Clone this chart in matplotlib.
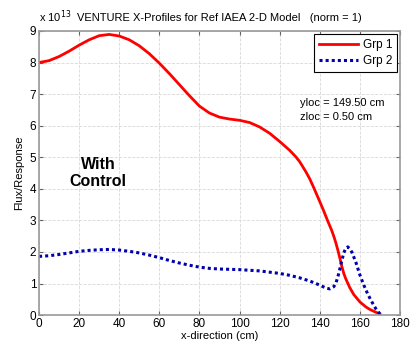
import matplotlib
matplotlib.use("Agg")
import matplotlib.pyplot as plt

plt.rcParams["font.family"] = ["Liberation Sans", "DejaVu Sans"]

# Grp 1 (x 1e13)
x_grp1 = [0, 5, 10, 15, 20, 25, 30, 35, 40, 45, 50, 55, 60, 65, 70, 75,
          80, 85, 90, 95, 100, 105, 110, 115, 120, 125, 128, 130, 133,
          135, 137, 140, 142, 144, 146, 147, 148, 149, 150, 151, 152,
          153, 155, 157, 160, 163, 165, 168, 170]
y_grp1 = [8.00, 8.06, 8.19, 8.36, 8.55, 8.72, 8.85, 8.89, 8.84, 8.72,
          8.53, 8.28, 7.98, 7.65, 7.30, 6.95, 6.62, 6.40, 6.27, 6.21,
          6.17, 6.10, 5.96, 5.76, 5.50, 5.22, 5.02, 4.86, 4.55, 4.32,
          4.04, 3.60, 3.30, 2.98, 2.68, 2.50, 2.30, 2.07, 1.82, 1.55,
          1.32, 1.15, 0.87, 0.65, 0.42, 0.26, 0.18, 0.09, 0.04]

# Grp 2 (x 1e13)
x_grp2 = [0, 5, 10, 15, 20, 25, 30, 35, 40, 45, 50, 55, 60, 65, 70, 75,
          80, 85, 90, 95, 100, 105, 110, 115, 120, 125, 130, 135, 140,
          143, 145, 147, 148, 149, 150, 151, 152, 153, 154, 155, 156,
          158, 160, 162, 164, 166, 168, 170]
y_grp2 = [1.86, 1.88, 1.92, 1.97, 2.02, 2.05, 2.07, 2.08, 2.06, 2.02,
          1.97, 1.90, 1.82, 1.73, 1.65, 1.58, 1.52, 1.48, 1.46, 1.45,
          1.44, 1.42, 1.40, 1.36, 1.32, 1.26, 1.18, 1.08, 0.95, 0.86,
          0.83, 0.90, 1.00, 1.20, 1.45, 1.72, 1.97, 2.12, 2.16, 2.10,
          2.00, 1.68, 1.28, 0.95, 0.66, 0.42, 0.20, 0.04]

fig = plt.figure(figsize=(4.11, 3.44), dpi=100)
ax = fig.add_axes([0.095, 0.084, 0.878, 0.826])

ax.plot(x_grp1, y_grp1, color="red", linewidth=2.0, label="Grp 1")
ax.plot(x_grp2, y_grp2, color="#0000b0", linewidth=2.2,
        linestyle=(0, (1, 1)), label="Grp 2")

ax.set_xlim(0, 180)
ax.set_ylim(0, 9)
ax.set_xticks(range(0, 181, 20))
ax.set_yticks(range(0, 10))
ax.grid(True, linestyle="--", color="#d8d8d8", linewidth=0.6)
ax.tick_params(direction="in", top=True, right=True, labelsize=8.5,
               length=3, color="#666666", pad=2)
for s in ax.spines.values():
    s.set_color("#999999")
    s.set_linewidth(1.2)

ax.set_xlabel("x-direction (cm)", fontsize=8, labelpad=1)
ax.set_ylabel("Flux/Response", fontsize=8, labelpad=4)
ax.set_title("VENTURE X-Profiles for Ref IAEA 2-D Model   (norm = 1)",
             fontsize=8, pad=7)
ax.text(0.0, 1.02, r"x 10$^{13}$", transform=ax.transAxes, fontsize=8,
        ha="left", va="bottom")

leg = ax.legend(loc="upper right", fontsize=8.5, fancybox=False,
                framealpha=1, edgecolor="black", handlelength=3.3,
                borderaxespad=0.25, borderpad=0.4, labelspacing=0.4,
                handletextpad=0.4)
leg.get_frame().set_linewidth(0.8)

ax.text(130, 6.72, "yloc = 149.50 cm", fontsize=8, va="center")
ax.text(130, 6.27, "zloc = 0.50 cm", fontsize=8, va="center")
ax.text(29.5, 4.5, "With\nControl", fontsize=11.5, fontweight="bold",
        ha="center", va="center", linespacing=1.1)

fig.savefig("out.png", dpi=100)
